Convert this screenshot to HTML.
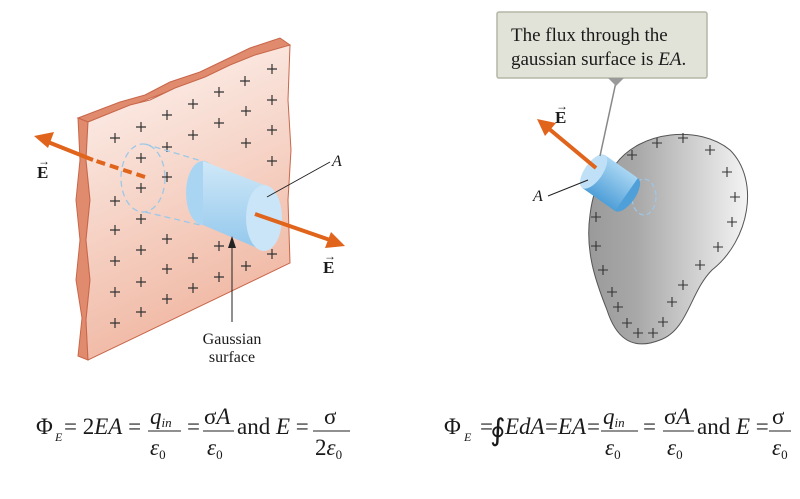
<!DOCTYPE html>
<html><head><meta charset="utf-8"><style>
html,body{margin:0;padding:0;background:#fff;width:800px;height:499px;overflow:hidden}
svg text{font-family:"Liberation Serif",serif;fill:#1a1a1a}
</style></head><body>
<svg width="800" height="499" viewBox="0 0 800 499" xmlns="http://www.w3.org/2000/svg">
<defs>
<linearGradient id="pl" x1="0" y1="0" x2="0.3" y2="1">
<stop offset="0" stop-color="#fdf5f2"/><stop offset="1" stop-color="#f0b7a2"/></linearGradient>
<linearGradient id="bl" x1="0" y1="0" x2="1" y2="0">
<stop offset="0" stop-color="#9a9a9a"/><stop offset="0.3" stop-color="#a8a8a8"/><stop offset="1" stop-color="#f4f4f4"/></linearGradient>
<linearGradient id="cy" x1="0" y1="0" x2="0" y2="1">
<stop offset="0" stop-color="#cfe8f8"/><stop offset="1" stop-color="#92c7ec"/></linearGradient>
<linearGradient id="cy2" x1="0" y1="0" x2="0" y2="1">
<stop offset="0" stop-color="#a9d6f3"/><stop offset="1" stop-color="#4f9fd8"/></linearGradient>
</defs>
<path d="M78,118 L120,102 L145,95 L170,82 L200,72 L225,60 L250,48 L280,38 L290,45 L88,122 Z" fill="#e08a6e" stroke="#c8674a" stroke-width="1"/>
<path d="M78,118 L88,122 L86,160 L90,200 L86,240 L90,280 L86,320 L88,360 L78,356 L82,318 L76,280 L80,240 L76,200 L80,160 Z" fill="#e08a6e" stroke="#c8674a" stroke-width="1"/>
<path d="M88,122 L130,105 L150,100 L175,88 L205,77 L230,65 L255,55 L290,45 L288,100 L291,150 L288,200 L290,263 L88,360 L86,320 L90,280 L86,240 L90,200 L86,160 Z" fill="url(#pl)" stroke="#c8674a" stroke-width="1"/>
<g stroke="#333" stroke-width="1.2">
<path d="M267,69h10M272,64v10 M240,81h10M245,76v10 M214,92h10M219,87v10 M188,104h10M193,99v10 M162,115h10M167,110v10 M136,127h10M141,122v10 M110,138h10M115,133v10
M267,100h10M272,95v10 M241,111h10M246,106v10 M214,123h10M219,118v10 M188,135h10M193,130v10 M162,147h10M167,142v10 M136,158h10M141,153v10
M267,130h10M272,125v10 M241,143h10M246,138v10 M162,177h10M167,172v10 M136,188h10M141,183v10 M110,201h10M115,196v10 M267,161h10M272,156v10
M136,219h10M141,214v10 M110,230h10M115,225v10 M162,239h10M167,234v10 M214,246h10M219,241v10 M267,254h10M272,249v10 M241,266h10M246,261v10 M214,277h10M219,272v10 M188,288h10M193,283v10 M162,299h10M167,294v10 M136,312h10M141,307v10 M110,323h10M115,318v10
M136,250h10M141,245v10 M110,261h10M115,256v10 M188,258h10M193,253v10 M162,269h10M167,264v10 M136,282h10M141,277v10 M110,292h10M115,287v10"/>
</g>
<line x1="145" y1="177" x2="93" y2="160" stroke="#e0641c" stroke-width="4" stroke-dasharray="9,5"/>
<line x1="93" y1="160" x2="48" y2="142" stroke="#e0641c" stroke-width="4"/>
<polygon points="34,136 54,132 48,148" fill="#e0641c"/>
<ellipse cx="143" cy="178" rx="22" ry="34" fill="none" stroke="#9cc8e8" stroke-width="1.3" stroke-dasharray="6,4"/>
<line x1="145" y1="144" x2="205" y2="162" stroke="#9cc8e8" stroke-width="1.3" stroke-dasharray="6,4"/>
<line x1="145" y1="212" x2="200" y2="225" stroke="#9cc8e8" stroke-width="1.3" stroke-dasharray="6,4"/>
<ellipse cx="203" cy="193" rx="17" ry="32" fill="#a9d5f2"/>
<path d="M203,161 L264,185 L264,251 L203,225 Z" fill="url(#cy)"/>
<ellipse cx="264" cy="218" rx="18" ry="33" fill="#c9e5f7"/>
<line x1="255" y1="214" x2="330" y2="240" stroke="#e0641c" stroke-width="4"/>
<polygon points="345,246 325,248 331,232" fill="#e0641c"/>
<line x1="330" y1="162" x2="267" y2="197" stroke="#222" stroke-width="1"/>
<line x1="232" y1="322" x2="232" y2="245" stroke="#222" stroke-width="1"/>
<polygon points="232,236 228,248 236,248" fill="#222"/>
<text x="332" y="166" font-size="16" font-style="italic">A</text>
<text x="37" y="178" font-size="17" font-weight="bold">E</text><text x="38" y="165" font-size="12">→</text>
<text x="323" y="273" font-size="17" font-weight="bold">E</text><text x="324" y="260" font-size="12">→</text>
<text x="232" y="344" font-size="16" text-anchor="middle">Gaussian</text>
<text x="232" y="362" font-size="16" text-anchor="middle">surface</text>

<path d="M615,165 C640,130 700,125 730,150 C760,180 750,240 712,270 C690,292 688,330 660,340 C630,352 615,335 607,310 C595,280 585,250 590,215 C593,190 600,175 615,165 Z" fill="url(#bl)" stroke="#555" stroke-width="1"/>
<g stroke="#333" stroke-width="1.1">
<path d="M652,143h10M657,138v10 M678,138h10M683,133v10 M705,150h10M710,145v10 M722,172h10M727,167v10 M730,197h10M735,192v10 M727,222h10M732,217v10 M713,247h10M718,242v10 M695,265h10M700,260v10 M678,285h10M683,280v10 M667,302h10M672,297v10 M658,322h10M663,317v10 M648,333h10M653,328v10 M633,333h10M638,328v10 M622,323h10M627,318v10 M613,307h10M618,302v10 M607,292h10M612,287v10 M598,270h10M603,265v10 M591,246h10M596,241v10 M591,217h10M596,212v10 M627,155h10M632,150v10"/>
</g>
<ellipse cx="644" cy="197" rx="12" ry="18" fill="none" stroke="#9cc8e8" stroke-width="1.2" stroke-dasharray="5,3"/>
<g transform="translate(610,183) rotate(35)">
<ellipse cx="20" cy="0" rx="9" ry="20" fill="#4f9fd8"/>
<rect x="-20" y="-20" width="40" height="40" fill="url(#cy2)"/>
<ellipse cx="-20" cy="0" rx="9" ry="20" fill="#bfe0f6"/>
</g>
<line x1="616" y1="82" x2="600" y2="156" stroke="#888" stroke-width="1.5"/>
<line x1="596" y1="168" x2="548" y2="128" stroke="#e0641c" stroke-width="4"/>
<polygon points="537,119 556,123 545,136" fill="#e0641c"/>
<line x1="548" y1="196" x2="588" y2="180" stroke="#222" stroke-width="1"/>
<text x="533" y="201" font-size="16" font-style="italic">A</text>
<text x="555" y="123" font-size="17" font-weight="bold">E</text><text x="556" y="110" font-size="12">→</text>
<rect x="497" y="12" width="210" height="66" fill="#e2e3d8" stroke="#b4b6a6" stroke-width="1.5" rx="2"/>
<polygon points="608,78 624,78 616,86" fill="#999"/>
<text x="511" y="41" font-size="19">The flux through the</text>
<text x="511" y="65" font-size="19">gaussian surface is <tspan font-style="italic">EA</tspan>.</text>

<g font-size="23">
<text x="36" y="434">Φ</text><text x="55" y="441" font-size="12" font-style="italic">E</text>
<text x="64" y="434">= 2<tspan font-style="italic">EA</tspan> =</text>
<text x="150" y="424" font-style="italic">q<tspan font-size="13" dy="3">in</tspan></text>
<line x1="148" y1="431" x2="181" y2="431" stroke="#222" stroke-width="1"/>
<text x="150" y="455" font-style="italic">ε<tspan font-size="13" font-style="normal" dy="4">0</tspan></text>
<text x="187" y="434">=</text>
<text x="204" y="424">σ<tspan font-style="italic">A</tspan></text>
<line x1="203" y1="431" x2="234" y2="431" stroke="#222" stroke-width="1"/>
<text x="207" y="455" font-style="italic">ε<tspan font-size="13" font-style="normal" dy="4">0</tspan></text>
<text x="237" y="434">and <tspan font-style="italic">E</tspan> =</text>
<text x="324" y="424">σ</text>
<line x1="313" y1="431" x2="350" y2="431" stroke="#222" stroke-width="1"/>
<text x="315" y="455">2<tspan font-style="italic">ε</tspan><tspan font-size="13" dy="4">0</tspan></text>

<text x="444" y="434">Φ</text><text x="464" y="441" font-size="12" font-style="italic">E</text>
<text x="480" y="434">=</text>
<text x="490" y="440" font-size="30">∮</text>
<text x="505" y="434" font-style="italic">EdA</text>
<text x="545" y="434">=<tspan font-style="italic">EA</tspan></text>
<text x="587" y="434">=</text>
<text x="603" y="424" font-style="italic">q<tspan font-size="13" dy="3">in</tspan></text>
<line x1="601" y1="431" x2="638" y2="431" stroke="#222" stroke-width="1"/>
<text x="605" y="455" font-style="italic">ε<tspan font-size="13" font-style="normal" dy="4">0</tspan></text>
<text x="643" y="434">=</text>
<text x="664" y="424">σ<tspan font-style="italic">A</tspan></text>
<line x1="663" y1="431" x2="694" y2="431" stroke="#222" stroke-width="1"/>
<text x="667" y="455" font-style="italic">ε<tspan font-size="13" font-style="normal" dy="4">0</tspan></text>
<text x="697" y="434">and <tspan font-style="italic">E</tspan> =</text>
<text x="772" y="424">σ</text>
<line x1="769" y1="431" x2="791" y2="431" stroke="#222" stroke-width="1"/>
<text x="772" y="455" font-style="italic">ε<tspan font-size="13" font-style="normal" dy="4">0</tspan></text>
</g>
</svg>
</body></html>
